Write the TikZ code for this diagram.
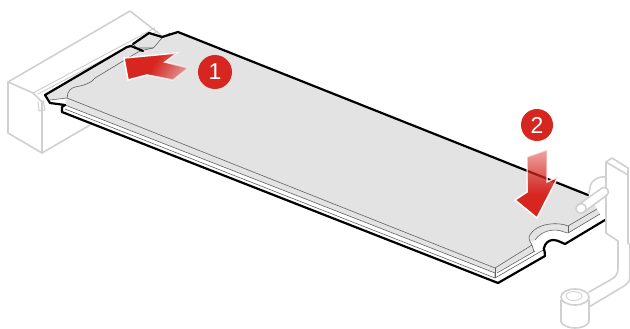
\documentclass[tikz,border=0pt]{standalone}
\usepackage{fontspec}
\setmainfont{Liberation Sans}
\usetikzlibrary{fadings}
\definecolor{redA}{HTML}{D6261F}
\definecolor{surf}{HTML}{E3E3E3}
\definecolor{pale}{HTML}{D0D0D0}
\tikzset{
 paleline/.style={draw=pale,line width=1.6pt,line join=round,line cap=round},
 thinline/.style={draw=black!62,line width=0.6pt,line join=round},
 blackline/.style={draw=black,line width=2.2pt,line join=round,line cap=round},
 badge/.style={circle,fill=redA,text=white,minimum size=34pt,inner sep=0pt,font=\fontsize{23}{23}\selectfont},
}
\pgfdeclarehorizontalshading{tailshadeA}{100bp}{color(0bp)=(white);color(25bp)=(white);color(47bp)=(white);color(92bp)=(black);color(100bp)=(black)}
\pgfdeclarefading{tailright}{\pgfuseshading{tailshadeA}}
\pgfdeclareverticalshading{tailshadeB}{100bp}{color(0bp)=(white);color(42bp)=(white);color(98bp)=(black);color(100bp)=(black)}
\pgfdeclarefading{tailtop}{\pgfuseshading{tailshadeB}}
\begin{document}
\begin{tikzpicture}[x=1pt,y=-1pt]
\useasboundingbox (0,0) rectangle (630,329);
% connector (pale)
\draw[paleline] (8,82) -- (130,11) -- (162,36);
\draw[paleline] (8,82) -- (8,133) -- (42,153) -- (90,125);
\draw[paleline] (8,82) -- (33,93) -- (42,102) -- (42,153);
\draw[paleline,line width=1pt] (33,93) -- (155,28);
\draw[paleline,line width=1pt] (38,94) -- (158,31);
\draw[paleline,line width=1pt] (38,102) -- (39,111) -- (45,110) -- (43,100);
% board body
\fill[white] (45,95) -- (131,46) -- (133,43) -- (149,33) -- (162,37) -- (178,32) -- (590,196) -- (605,220) -- (565,244) -- (498,283) -- (62,112) -- (62,107) -- (50,103) -- cycle;
% top surface
\fill[surf] (45,95) -- (131,46) -- (133,43) -- (149,33) -- (162,37) -- (178,32) -- (588,195) -- (597,209) -- (568,226)
  .. controls (560,222) and (535,222) .. (529,237)
  .. controls (529,241) and (531,243) .. (532,245)
  -- (495,268) -- (67,98) -- (50,100) -- cycle;
\fill[surf] (67,98) -- (495,268) -- (532,245) -- (535,251) -- (495,273) -- (65,105) -- cycle;
\fill[surf] (597,209) -- (568,226) .. controls (560,222) and (535,222) .. (529,237) .. controls (529,241) and (531,243) .. (535,240) .. controls (542,230) and (555,228) .. (564,232) -- (568,233) -- (600,214) -- cycle;
% layers
\draw[thinline] (67,98) -- (495,268) -- (532,245);
\draw[thinline] (50,100) -- (67,98);
\draw[thinline] (65,105) -- (495,273) -- (495,278);
\draw[thinline] (65,109) -- (495,278) -- (545,249);
\draw[thinline] (495,268) -- (495,278);
\draw[thinline] (497,273) -- (535,251);
\draw[thinline] (532,245) -- (534,252);
\draw[thinline] (597,209) -- (568,226) .. controls (560,222) and (535,222) .. (529,237) .. controls (529,241) and (531,243) .. (532,245);
\draw[thinline] (600,214) -- (568,233) -- (564,232) .. controls (555,228) and (542,230) .. (535,240);
\draw[thinline] (568,226) -- (568,233);
\draw[thinline] (67,98) -- (68,93) .. controls (70,88) and (74,87) .. (80,86) .. controls (88,84) and (92,82) .. (95,78) -- (138,52) -- (144,50)
   -- (153,48) .. controls (156,46) and (158,42) .. (162,38) -- (170,33);
\draw[thinline] (134,45) -- (137,48) -- (153,48);
% black outline
\draw[blackline] (143,51) -- (131,46) -- (127,47) -- (45,95) -- (50,103) -- (65,105) -- (62,107) -- (62,112) -- (498,283) -- (545,256)
   .. controls (545,250) and (543,248) .. (544,248) .. controls (545,243) and (549,240) .. (553,240) .. controls (558,240) and (562,243) .. (565,244) -- (605,220);
\draw[blackline] (133,44) -- (149,33) -- (162,37) -- (178,32) -- (588,195);
% arrow 1
\path[fill=redA,draw=white,line width=1.5pt,line join=miter,path fading=tailright,fading angle=-15]
  (124,58) -- (177,53) -- (165,62) -- (188,68) -- (173,80) -- (147,75) -- (128,80) -- cycle;
% arrow 2
\path[fill=redA,draw=white,line width=1.5pt,line join=miter,path fading=tailtop]
  (527,157) -- (547,150) -- (547,182) -- (558,177) -- (537,218) -- (515,200) -- (527,192) -- cycle;
% badges
\node[badge] (one) at (215,72) {1};
\node[badge,minimum size=32pt] (two) at (537,125) {2};
% bracket
\draw[paleline] (606,233) -- (606,162) -- (612,158) -- (628,168) -- (628,243);
\draw[paleline] (606,162) -- (628,175);
\draw[paleline] (606,233) -- (618,241) -- (618,268) .. controls (618,274) and (616,276) .. (612,279) -- (589,292);
\draw[paleline] (628,243) -- (630,245) -- (630,276) .. controls (630,282) and (627,284) .. (624,286) -- (589,307);
\draw[paleline] (605,177) .. controls (600,176) and (590,180) .. (590,188) -- (589,193);
% pin
\path[fill=white,paleline] (578,205) -- (602,188) .. controls (606,185) and (611,192) .. (607,195) -- (584,212) .. controls (578,216) and (573,209) .. (578,205) -- cycle;
\draw[paleline] (584,212) .. controls (589,208) and (584,201) .. (578,205);
% standoff
\path[fill=white,paleline] (561,300) -- (561,322) .. controls (565,330) and (585,330) .. (589,322) -- (589,300) .. controls (585,304) and (565,304) .. (561,300) -- cycle;
\path[fill=white,paleline] (575,297) ellipse[x radius=14,y radius=8];
\draw[paleline,line width=0.8pt] (574,296) ellipse[x radius=8,y radius=4.5];
\end{tikzpicture}
\end{document}
